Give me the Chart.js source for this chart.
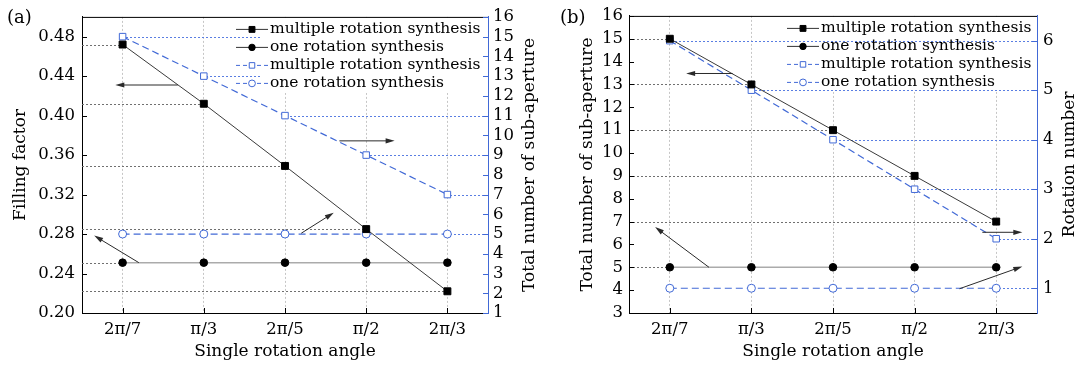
<!DOCTYPE html>
<html>
<head>
<meta charset="utf-8">
<script src="https://cdn.jsdelivr.net/npm/chart.js@4"></script>
<style>
  body { margin: 0; background: #fff; }
  #wrap { position: relative; width: 1082px; height: 368px; }
  canvas { position: absolute; top: 0; }
</style>
</head>
<body>
<div id="wrap">
  <canvas id="chartA" width="541" height="368" style="left:0"></canvas>
  <canvas id="chartB" width="541" height="368" style="left:541px"></canvas>
</div>
<script>
// ── data
const angles = ["2π/7", "π/3", "2π/5", "π/2", "2π/3"];
const legendLabels = ["multiple rotation synthesis", "one rotation synthesis", "multiple rotation synthesis", "one rotation synthesis"];

// (a) filling factor (left) / total sub-aperture (right)
const fillMultiple = [0.472, 0.412, 0.349, 0.285, 0.222];
const fillOne = [0.251, 0.251, 0.251, 0.251, 0.251];
const subMultipleA = [15, 13, 11, 9, 7];
const subOneA = [5, 5, 5, 5, 5];
const fillTicks = [0.20, 0.24, 0.28, 0.32, 0.36, 0.40, 0.44, 0.48];
const subTicksA = [1, 2, 3, 4, 5, 6, 7, 8, 9, 10, 11, 12, 13, 14, 15, 16];

// (b) total sub-aperture (left) / rotation number (right)
const subMultipleB = [15, 13, 11, 9, 7];
const subOneB = [5, 5, 5, 5, 5];
const rotMultiple = [6, 5, 4, 3, 2];
const rotOne = [1, 1, 1, 1, 1];
const subTicksB = [3, 4, 5, 6, 7, 8, 9, 10, 11, 12, 13, 14, 15, 16];
const rotTicks = [1, 2, 3, 4, 5, 6];

// arrows: [fromCategory, fromValue, toCategory, toValue, axis]
const arrowsA = [[0.68, 0.431, -0.09, 0.431, "y"], [0.20, 0.251, -0.35, 0.2784, "y"],
                 [2.67, 9.72, 3.35, 9.72, "y1"], [2.2, 5.04, 2.6, 6.08, "y1"]];
const arrowsB = [[0.77, 13.48, 0.20, 13.48, "y"], [0.48, 5, -0.18, 6.76, "y"],
                 [3.83, 2.13, 4.32, 2.13, "y1"], [3.55, 0.99, 4.32, 1.44, "y1"]];

const FONT = "'DejaVu Serif', serif";
const BLUE = "#4169d6";
const BLUE_REF = "#5a7ee2";
const GREY_REF = "#707070";

const styles = {
  blackSquare: { borderColor: "#3a3a3a", borderWidth: 1, borderDash: [], pointStyle: "rect", pointRadius: 4.9,
                 pointBackgroundColor: "#000", pointBorderColor: "#000", legendColor: "#333", legendDash: [] },
  blackCircle: { borderColor: "#ababab", borderWidth: 1.5, borderDash: [], pointStyle: "circle", pointRadius: 3.8,
                 pointBackgroundColor: "#000", pointBorderColor: "#000", legendColor: "#333", legendDash: [] },
  blueSquare: { borderColor: BLUE, borderWidth: 1.2, borderDash: [7, 4], pointStyle: "rect", pointRadius: 4.6,
                pointBackgroundColor: "#fff", pointBorderColor: BLUE, legendColor: BLUE, legendDash: [4, 3] },
  blueCircle: { borderColor: BLUE, borderWidth: 1.2, borderDash: [7, 4], pointStyle: "circle", pointRadius: 4,
                pointBackgroundColor: "#fff", pointBorderColor: BLUE, legendColor: BLUE, legendDash: [4, 3] }
};

function series(label, data, axis, kind) {
  const s = styles[kind];
  return { label, data, yAxisID: axis, borderColor: s.borderColor, borderWidth: s.borderWidth, borderDash: s.borderDash,
           pointStyle: s.pointStyle, pointRadius: s.pointRadius, pointBackgroundColor: s.pointBackgroundColor,
           pointBorderColor: s.pointBorderColor, pointBorderWidth: 1, fill: false, tension: 0, kind };
}

function drawArrow(ctx, x0, y0, x1, y1) {
  const ang = Math.atan2(y1 - y0, x1 - x0), len = 9, w = 2.6;
  const c = Math.cos(ang), s = Math.sin(ang);
  ctx.beginPath(); ctx.moveTo(x0, y0); ctx.lineTo(x1 - c * 5, y1 - s * 5); ctx.stroke();
  ctx.beginPath(); ctx.moveTo(x1, y1);
  ctx.lineTo(x1 - len * c + w * s, y1 - len * s - w * c);
  ctx.lineTo(x1 - len * c - w * s, y1 - len * s + w * c);
  ctx.closePath(); ctx.fill();
}

// ── extra drawing: reference lines, legend, arrows, borders, inward ticks
const decor = {
  id: "decor",
  beforeDatasetsDraw(chart, args, o) {
    const { ctx, chartArea: a, scales } = chart;
    const refs = () => {
      ctx.save();
      ctx.setLineDash([2, 2]); ctx.lineWidth = 1;
      chart.data.datasets.forEach(ds => {
        const ys = scales[ds.yAxisID];
        const right = ys.position === "right";
        ctx.strokeStyle = right ? BLUE_REF : GREY_REF;
        ds.data.forEach((v, i) => {
          // only the point nearest the axis gets a guide when values repeat
          const hidden = ds.data.some((w, j) => w === v && (right ? j > i : j < i));
          if (hidden) return;
          const px = scales.x.getPixelForValue(i), py = Math.round(ys.getPixelForValue(v)) + 0.5;
          ctx.beginPath(); ctx.moveTo(right ? a.right : a.left, py); ctx.lineTo(px, py); ctx.stroke();
        });
      });
      ctx.restore();
    };
    const box = () => { ctx.fillStyle = "#fff"; ctx.fillRect(o.boxLeft, a.top + 1, a.right - o.boxLeft - 1, 75); };
    if (o.refOnTop) { box(); refs(); } else { refs(); box(); }
  },
  afterDatasetsDraw(chart, args, o) {
    const { ctx, chartArea: a, scales } = chart;
    ctx.save();
    // frame
    ctx.lineWidth = 1; ctx.setLineDash([]);
    ctx.strokeStyle = "#000";
    ctx.beginPath(); ctx.moveTo(a.left, a.top + 0.5); ctx.lineTo(a.right, a.top + 0.5); ctx.stroke();
    // inward ticks
    angles.forEach((_, i) => {
      const px = Math.round(scales.x.getPixelForValue(i)) + 0.5;
      ctx.beginPath(); ctx.moveTo(px, a.bottom); ctx.lineTo(px, a.bottom - 5); ctx.stroke();
    });
    scales.y.ticks.forEach(t => {
      const py = Math.round(scales.y.getPixelForValue(t.value)) + 0.5;
      ctx.beginPath(); ctx.moveTo(a.left, py); ctx.lineTo(a.left + 5, py); ctx.stroke();
    });
    ctx.strokeStyle = BLUE;
    scales.y1.ticks.forEach(t => {
      const py = Math.round(scales.y1.getPixelForValue(t.value)) + 0.5;
      ctx.beginPath(); ctx.moveTo(a.right, py); ctx.lineTo(a.right - 5, py); ctx.stroke();
    });
    ctx.beginPath(); ctx.moveTo(a.right + 0.5, a.top); ctx.lineTo(a.right + 0.5, a.bottom); ctx.stroke();

    // legend
    const tx = a.right - o.legendShift;
    chart.data.datasets.forEach((ds, i) => {
      const s = styles[ds.kind];
      const y = a.top + 12 + i * 18;
      ctx.strokeStyle = s.legendColor; ctx.lineWidth = 1; ctx.setLineDash(s.legendDash);
      ctx.beginPath(); ctx.moveTo(tx - 34, y + 0.5); ctx.lineTo(tx - 2, y + 0.5); ctx.stroke();
      ctx.setLineDash([]);
      ctx.fillStyle = s.pointBackgroundColor; ctx.strokeStyle = s.pointBorderColor;
      Chart.helpers.drawPoint(ctx, { pointStyle: s.pointStyle, radius: s.pointRadius * 0.85, borderWidth: 1, rotation: 0 }, tx - 18, y + 0.5);
      ctx.fillStyle = "#000"; ctx.font = "15.5px " + FONT; ctx.textBaseline = "middle"; ctx.textAlign = "left";
      ctx.fillText(legendLabels[i], tx, y);
    });

    // arrows
    ctx.strokeStyle = "#2a2a2a"; ctx.fillStyle = "#2a2a2a"; ctx.lineWidth = 1;
    o.arrows.forEach(([c0, v0, c1, v1, ax]) => {
      drawArrow(ctx, scales.x.getPixelForValue(c0), scales[ax].getPixelForValue(v0),
                scales.x.getPixelForValue(c1), scales[ax].getPixelForValue(v1));
    });

    // right axis title (reads bottom to top) and panel tag
    ctx.fillStyle = "#000"; ctx.font = "17px " + FONT; ctx.textAlign = "center"; ctx.textBaseline = "middle";
    ctx.translate(o.rightTitleX, (a.top + a.bottom) / 2);
    ctx.rotate(-Math.PI / 2);
    ctx.fillText(o.rightTitle, 0, 0);
    ctx.setTransform(1, 0, 0, 1, 0, 0);
    ctx.font = "18px " + FONT; ctx.textAlign = "left";
    ctx.fillText(o.tag, o.tagX, 18);
    ctx.restore();
  }
};

function buildChart(id, p) {
  const tickFont = { family: FONT, size: 16.5 };
  const titleFont = { family: FONT, size: 17 };
  return new Chart(document.getElementById(id), {
    type: "line",
    data: { labels: angles, datasets: p.datasets },
    options: {
      responsive: false, animation: false, devicePixelRatio: 1,
      layout: { padding: { top: 12, left: 0, right: 0, bottom: 0 } },
      plugins: { legend: { display: false }, tooltip: { enabled: false }, decor: p.decor },
      scales: {
        x: {
          type: "category", offset: true,
          grid: { offset: false, color: "#c6c6c6", drawTicks: false },
          border: { color: "#000", width: 1, dash: [2, 2] },
          ticks: { padding: 7, color: "#000", font: tickFont, maxRotation: 0, autoSkip: false },
          title: { display: true, text: "Single rotation angle", color: "#000", font: titleFont, padding: { top: 0, bottom: 6 } },
          afterFit: s => { s.height = 55; }
        },
        y: {
          position: "left", min: p.left.min, max: p.left.max,
          grid: { display: false, drawTicks: false },
          border: { color: "#000", width: 1 },
          ticks: { padding: p.left.pad, color: "#000", font: tickFont, callback: p.left.fmt, autoSkip: false },
          afterBuildTicks: s => { s.ticks = p.left.ticks.map(v => ({ value: v })); },
          title: { display: true, text: p.left.title, color: "#000", font: titleFont, padding: { top: p.left.titlePad, bottom: 0 } },
          afterFit: s => { s.width = p.left.width; }
        },
        y1: {
          position: "right", min: p.right.min, max: p.right.max,
          grid: { display: false, drawTicks: false },
          border: { color: BLUE, width: 1 },
          ticks: { padding: p.right.pad, color: "#000", font: tickFont, autoSkip: false },
          afterBuildTicks: s => { s.ticks = p.right.ticks.map(v => ({ value: v })); },
          afterFit: s => { s.width = p.right.width; }
        }
      }
    },
    plugins: [decor]
  });
}

buildChart("chartA", {
  datasets: [
    series(legendLabels[0], fillMultiple, "y", "blackSquare"),
    series(legendLabels[1], fillOne, "y", "blackCircle"),
    series(legendLabels[2], subMultipleA, "y1", "blueSquare"),
    series(legendLabels[3], subOneA, "y1", "blueCircle")
  ],
  left: { min: 0.2, max: 0.5, ticks: fillTicks, fmt: v => v.toFixed(2), pad: 7, width: 82, title: "Filling factor", titlePad: 10 },
  right: { min: 1, max: 16, ticks: subTicksA, pad: 5, width: 53 },
  decor: { arrows: arrowsA, refOnTop: false, boxLeft: 262, legendShift: 218, rightTitle: "Total number of sub-aperture",
           rightTitleX: 530, tag: "(a)", tagX: 7 }
});

buildChart("chartB", {
  datasets: [
    series(legendLabels[0], subMultipleB, "y", "blackSquare"),
    series(legendLabels[1], subOneB, "y", "blackCircle"),
    series(legendLabels[2], rotMultiple, "y1", "blueSquare"),
    series(legendLabels[3], rotOne, "y1", "blueCircle")
  ],
  left: { min: 3, max: 16, ticks: subTicksB, fmt: v => String(v), pad: 6, width: 88, title: "Total number of sub-aperture", titlePad: 36 },
  right: { min: 0.5, max: 6.5, ticks: rotTicks, pad: 6, width: 45 },
  decor: { arrows: arrowsB, refOnTop: true, boxLeft: 240, legendShift: 216, rightTitle: "Rotation number",
           rightTitleX: 529, tag: "(b)", tagX: 19 }
});
</script>
</body>
</html>
